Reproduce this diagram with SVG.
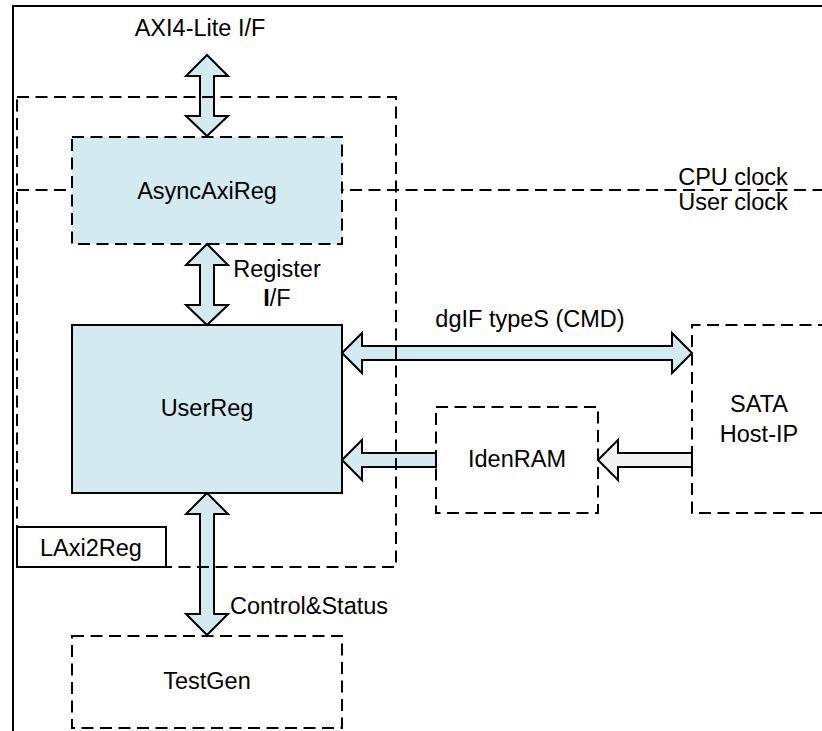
<svg xmlns="http://www.w3.org/2000/svg" width="822" height="731" viewBox="0 0 822 731">
<style>
text{font-family:"Liberation Sans",Arial,sans-serif;font-size:23.5px;fill:#000}
.c{text-anchor:middle}
.dash{fill:none;stroke:#000;stroke-width:2;stroke-dasharray:12 6.5}
.arw{fill:#D3EAF0;stroke:#000;stroke-width:2;stroke-linejoin:miter}
.arwg{fill:#F2F2F2;stroke:#000;stroke-width:2}
.box{fill:#D3EAF0;stroke:#000;stroke-width:2}
</style>
<rect width="822" height="731" fill="#fff"/>
<g id="frame">
<path d="M13,731 V6 H822" fill="none" stroke="#000" stroke-width="2"/>
</g>
<g id="clock-divider">
<line x1="17" y1="190" x2="822" y2="190" class="dash"/>
<text x="733" y="185" class="c">CPU clock</text>
<text x="733" y="210" class="c">User clock</text>
</g>
<g id="AsyncAxiReg">
<rect x="72" y="137" width="270" height="107" class="box" stroke-dasharray="12 6.5"/>
<text x="207" y="199" class="c">AsyncAxiReg</text>
</g>
<g id="UserReg">
<rect x="72" y="325" width="270" height="168" class="box"/>
<text x="207" y="416" class="c">UserReg</text>
</g>
<g id="IdenRAM">
<rect x="436" y="407" width="162" height="106" class="dash"/>
<text x="517" y="467" class="c">IdenRAM</text>
</g>
<g id="SATA">
<path d="M830,325 H692 V513 H830" class="dash"/>
<text x="759" y="412" class="c">SATA</text>
<text x="759" y="442" class="c">Host-IP</text>
</g>
<g id="TestGen">
<rect x="72" y="636" width="270" height="92" class="dash"/>
<text x="207" y="689" class="c">TestGen</text>
</g>
<g id="connectors">
<polygon class="arw" points="207,55 228,76 214,76 214,116 228,116 207,136 186,116 200,116 200,76 186,76"/>
<polygon class="arw" points="207,244 228,265 214,265 214,305 228,305 207,325 186,305 200,305 200,265 186,265"/>
<polygon class="arw" points="207,493 228,514 214,514 214,614 228,614 207,635 186,614 200,614 200,514 186,514"/>
<polygon class="arw" points="342,353 362,333 362,346 672,346 672,333 692,353 672,373 672,360 362,360 362,373"/>
<polygon class="arw" points="342,460 362,440 362,453 436,453 436,467 362,467 362,480"/>
<polygon class="arwg" points="598,460 618,440 618,453 692,453 692,467 618,467 618,480"/>
<text x="200" y="36" class="c">AXI4-Lite I/F</text>
<text x="277" y="277" class="c">Register</text>
<text x="277" y="306" class="c"><tspan font-weight="bold">I</tspan>/F</text>
<text x="530" y="327" class="c">dgIF typeS (CMD)</text>
<text x="230" y="614">Control&amp;Status</text>
</g>
<g id="LAxi2Reg">
<rect x="17" y="97" width="379" height="470" class="dash"/>
<rect x="17" y="527" width="149" height="40" fill="#fff" stroke="#000" stroke-width="2"/>
<text x="91" y="556" class="c">LAxi2Reg</text>
</g>
</svg>
